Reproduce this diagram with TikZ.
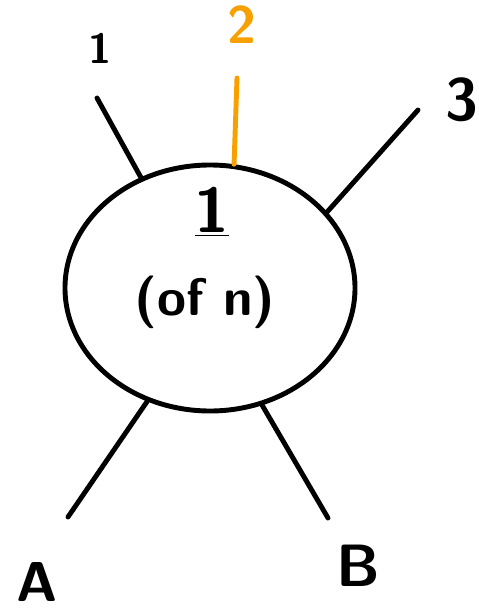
\documentclass[tikz,border=0pt]{standalone}
\usepackage{tikz}
\usetikzlibrary{shapes.geometric,positioning,calc}
\definecolor{penorange}{RGB}{247,160,0}
\tikzset{
    pen/.style={line width=2.8pt, line cap=round},
    hand/.style={font=\sffamily\bfseries\fontsize{#1}{#1}\selectfont, inner sep=0pt},
}

\begin{document}
\begin{tikzpicture}[x=0.02cm, y=-0.02cm]
                    \useasboundingbox (0,0) rectangle (478,615);
                    \node[pen, draw, ellipse, minimum width=290*0.02cm, minimum height=246*0.02cm, inner sep=0pt] (blob) at (210,288) {};
                    \node[hand=36] (one) at (212,212) {\underline{1}};
                    \node[hand=30] (ofn) at (205,302) {(of n)};
                    % legs
                    \coordinate (end1) at (97,98);
                    \coordinate (end2) at (237,78);
                    \coordinate (end3) at (418,110);
                    \coordinate (endA) at (68,517);
                    \coordinate (endB) at (328,518);
                    \draw[pen] (blob.122) -- (end1);
                    \draw[pen, penorange] (blob.79) -- (end2);
                    \draw[pen] (blob.33) -- (end3);
                    \draw[pen] (blob.241) -- (endA);
                    \draw[pen] (blob.294) -- (endB);
                    % labels
                    \node[hand=24] (lab1) at (100,48) {1};
                    \node[hand=30, penorange] (lab2) at (242,25) {2};
                    \node[hand=34] (lab3) at (462,100) {3};
                    \node[hand=32] (labA) at (37,582) {A};
                    \node[hand=34] (labB) at (358,566) {B};
                \end{tikzpicture}
\end{document}
